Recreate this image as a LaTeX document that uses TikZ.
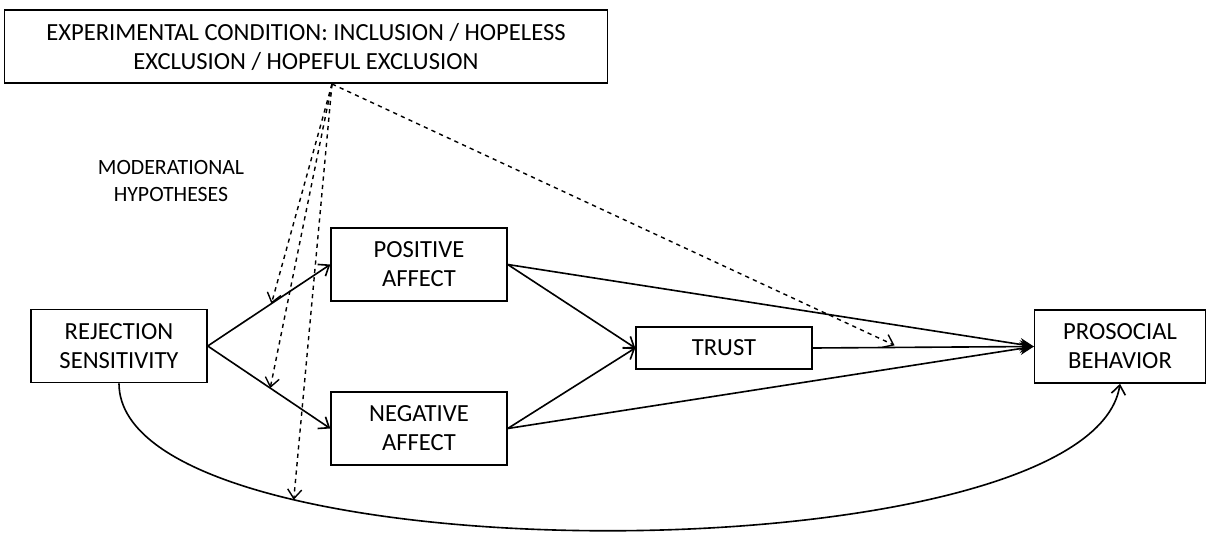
\documentclass[tikz,border=0pt]{standalone}
\usepackage{fontspec}
\setmainfont{Carlito}
\usetikzlibrary{arrows.meta,positioning}

\begin{document}
\begin{tikzpicture}[x=0.025cm,y=-0.025cm,>={Straight Barb[length=6.5pt,width=10pt]},line width=1.15pt,
  main node/.style={rectangle,draw,line width=1pt,align=center,inner sep=0pt,minimum width=4.4cm,minimum height=1.83cm,font=\fontsize{17.5}{20.6}\selectfont},
  mod arrow/.style={->,dashed,line width=1pt},
  full tip/.style={-{Stealth[length=10pt,width=9pt]}}]

  \useasboundingbox (0,0) rectangle (1211,551);

  \node[main node,minimum width=15.08cm] (cond) at (306,46.5) {EXPERIMENTAL CONDITION: INCLUSION / HOPELESS\\EXCLUSION / HOPEFUL EXCLUSION};
  \node[align=center,font=\fontsize{15.5}{19.9}\selectfont] (hyp) at (171,181) {MODERATIONAL\\HYPOTHESES};

  \node[main node] (rej) at (119,346) {REJECTION\\SENSITIVITY};
  \node[main node] (pos) at (419,264.5) {POSITIVE\\AFFECT};
  \node[main node] (neg) at (419,428.5) {NEGATIVE\\AFFECT};
  \node[main node,minimum height=1.05cm] (trust) at (724,348) {TRUST};
  \node[main node,minimum width=4.27cm] (pro) at (1120,346.5) {PROSOCIAL\\BEHAVIOR};

  \coordinate (src) at (332,84);

  % paths
  \draw[->] (rej.east) -- coordinate[pos=0.52] (mpos) (pos.west);
  \draw[->] (rej.east) -- coordinate[pos=0.51] (mneg) (neg.west);
  \draw[->] (pos.east) -- (trust.west);
  \draw[->] (neg.east) -- (trust.west);
  \path[full tip]
    (pos.east) edge (pro.west)
    (neg.east) edge (pro.west);
  \draw[full tip] (trust.east) -- coordinate[pos=0.37] (mtrust) (pro.west);
  \draw[->] (rej.south) .. controls (119,581) and (1090,578) .. coordinate[pos=0.27] (mcurve) (pro.south);

  % moderation
  \path[mod arrow]
    (src) edge (mpos)
    (src) edge (mneg)
    (src) edge (mcurve)
    (src) edge ([yshift=1.5pt]mtrust);
\end{tikzpicture}
\end{document}
